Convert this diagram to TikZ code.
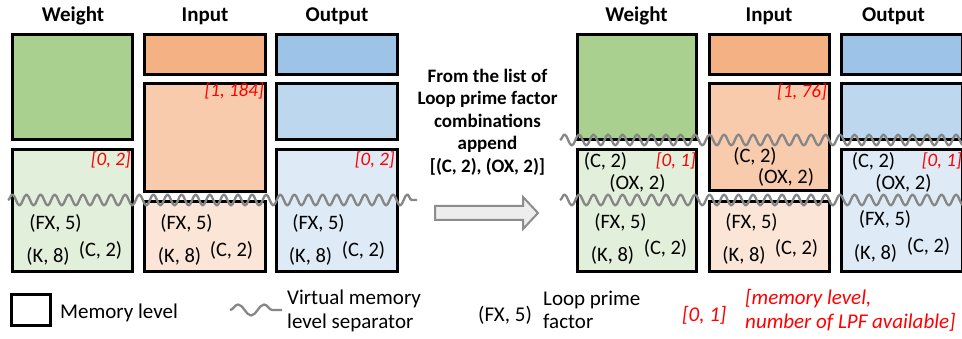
\documentclass[tikz,border=0pt]{standalone}
\usepackage{fontspec}
\setmainfont{Carlito}
\usetikzlibrary{decorations.pathmorphing,fit}
\definecolor{wTop}{HTML}{A9D08E}
\definecolor{wLow}{HTML}{E2EFDA}
\definecolor{iTop}{HTML}{F4B183}
\definecolor{iMid}{HTML}{F8CBAD}
\definecolor{iLow}{HTML}{FBE5D6}
\definecolor{oTop}{HTML}{9DC3E6}
\definecolor{oMid}{HTML}{BDD7EE}
\definecolor{oLow}{HTML}{DEEBF7}
\definecolor{lred}{HTML}{FF0000}
\definecolor{sepgray}{HTML}{868686}
\definecolor{arrfill}{HTML}{EDEDED}
\definecolor{arrgray}{HTML}{8C8C8C}
\newcommand\memlevel[6]{\node[mem,fill=#2,fit={(#3,#4) (#5,#6)}] (#1) {};}
\begin{document}
\begin{tikzpicture}[x=1pt,y=-1pt,
  mem/.style={draw=black,line width=3pt,inner sep=0pt,outer sep=0pt},
  hdr/.style={font=\fontsize{21}{24}\selectfont\bfseries,anchor=base,inner sep=0pt},
  lpf/.style={font=\fontsize{20.5}{24}\selectfont,anchor=base,inner sep=0pt},
  cnt/.style={font=\fontsize{19}{22}\selectfont\itshape,text=lred,anchor=base east,inner sep=0pt},
  leg/.style={font=\fontsize{21}{23}\selectfont,anchor=base west,inner sep=0pt},
  sep/.style={draw=sepgray,line width=2.3pt,line join=round,decorate,decoration={snake,amplitude=5.5pt,segment length=14.1pt}},
]
\clip (0,0) rectangle (962,339);
\fill[white] (0,0) rectangle (962,339);

% ---------------- left panel ----------------
\node[hdr] (hW1) at (73,22) {Weight};
\node[hdr] (hI1) at (205,22) {Input};
\node[hdr] (hO1) at (337,22) {Output};

\memlevel{w1a}{wTop}{12.5}{34.5}{132.5}{139.5}
\memlevel{w1b}{wLow}{12.5}{149.5}{132.5}{271.5}
\memlevel{i1a}{iTop}{144.5}{34.5}{265.5}{74.5}
\memlevel{i1b}{iMid}{144.5}{83.5}{265.5}{191.5}
\memlevel{i1c}{iLow}{144.5}{201.5}{265.5}{271.5}
\memlevel{o1a}{oTop}{276.5}{34.5}{397.5}{74.5}
\memlevel{o1b}{oMid}{276.5}{83.5}{397.5}{139.5}
\memlevel{o1c}{oLow}{276.5}{149.5}{397.5}{271.5}

\node[cnt] (c1i) at (264,97) {[1, 184]};
\node[cnt] (c1w) at (131,166) {[0, 2]};
\node[cnt] (c1o) at (395,166) {[0, 2]};

\coordinate (s1a) at (8,200);
\coordinate (s1b) at (417,200);
\draw[sep] (s1a) -- (s1b);

\node[lpf] (w1fx) at (55.5,230) {(FX, 5)};
\node[lpf] (w1k)  at (48,263) {(K, 8)};
\node[lpf] (w1c)  at (100.5,257) {(C, 2)};
\node[lpf] (i1fx) at (186.5,230) {(FX, 5)};
\node[lpf] (i1k)  at (179.5,263) {(K, 8)};
\node[lpf] (i1c)  at (231.5,257) {(C, 2)};
\node[lpf] (o1fx) at (318.5,230) {(FX, 5)};
\node[lpf] (o1k)  at (310.5,263) {(K, 8)};
\node[lpf] (o1c)  at (363.5,257) {(C, 2)};

% ---------------- middle ----------------
\node[font=\fontsize{19}{22.5}\selectfont\bfseries,align=center,inner sep=0pt] (txt) at (487.5,122)
  {From the list of\\Loop prime factor\\combinations\\append\\{[(C, 2), (OX, 2)]}};
\draw[fill=arrfill,draw=arrgray,line width=2pt]
  (435,206) -- (523,206) -- (523,197) -- (538,213) -- (523,229) -- (523,220) -- (435,220) -- cycle;

% ---------------- right panel ----------------
\node[hdr] (hW2) at (636.5,22) {Weight};
\node[hdr] (hI2) at (769,22) {Input};
\node[hdr] (hO2) at (893.5,22) {Output};

\memlevel{w2a}{wTop}{577.5}{34.5}{696.5}{139.5}
\memlevel{w2b}{wLow}{577.5}{149.5}{696.5}{271.5}
\memlevel{i2a}{iTop}{709.5}{34.5}{829.5}{74.5}
\memlevel{i2b}{iMid}{709.5}{83.5}{829.5}{190.5}
\memlevel{i2c}{iLow}{709.5}{201.5}{829.5}{271.5}
\memlevel{o2a}{oTop}{841.5}{34.5}{962.5}{74.5}
\memlevel{o2b}{oMid}{841.5}{83.5}{962.5}{139.5}
\memlevel{o2c}{oLow}{841.5}{149.5}{962.5}{271.5}

\node[cnt] (c2i) at (827,98) {[1, 76]};
\node[cnt] (c2w) at (696,167) {[0, 1]};
\node[cnt] (c2o) at (962,167) {[0, 1]};

\coordinate (s2a) at (560,140);
\coordinate (s2b) at (970,140);
\draw[sep,decoration={segment length=14.5pt}] (s2a) -- (s2b);
\coordinate (s3a) at (560,200);
\coordinate (s3b) at (970,200);
\draw[sep,decoration={segment length=14.5pt}] (s3a) -- (s3b);

\node[lpf] (w2c1) at (605.5,168) {(C, 2)};
\node[lpf] (w2ox) at (637.5,190) {(OX, 2)};
\node[lpf] (w2fx) at (620.5,229) {(FX, 5)};
\node[lpf] (w2k)  at (612.5,262) {(K, 8)};
\node[lpf] (w2c)  at (665.5,255) {(C, 2)};
\node[lpf] (i2c1) at (755,163) {(C, 2)};
\node[lpf] (i2ox) at (786,184) {(OX, 2)};
\node[lpf] (i2fx) at (751.5,229) {(FX, 5)};
\node[lpf] (i2k)  at (744,262) {(K, 8)};
\node[lpf] (i2c)  at (796.5,255) {(C, 2)};
\node[lpf] (o2c1) at (873.5,168) {(C, 2)};
\node[lpf] (o2ox) at (903.5,190) {(OX, 2)};
\node[lpf] (o2fx) at (885,226) {(FX, 5)};
\node[lpf] (o2k)  at (875.5,260) {(K, 8)};
\node[lpf] (o2c)  at (928.5,253) {(C, 2)};

% ---------------- legend ----------------
\node[mem,fill=white,minimum width=39pt,minimum height=31pt,anchor=center] (lbox) at (31,310) {};
\node[leg] (lmem) at (60,319) {Memory level};
\coordinate (lsa) at (230,310);
\coordinate (lsb) at (282,310);
\draw[sep,decoration={segment length=26pt,amplitude=5.5pt}] (lsa) -- (lsb);
\node[leg] (lvm1) at (287,305) {Virtual memory};
\node[leg] (lvm2) at (287,328) {level separator};
\node[leg] (llpf) at (478,322) {(FX, 5)};
\node[leg] (llp1) at (543,306) {Loop prime};
\node[leg] (llp2) at (543,329) {factor};
\node[leg,font=\fontsize{21}{23}\selectfont\itshape,text=lred] (lcnt) at (682,322) {[0, 1]};
\node[leg,font=\fontsize{21}{23}\selectfont\itshape,text=lred] (lc1) at (745,305) {[memory level,};
\node[leg,font=\fontsize{21}{23}\selectfont\itshape,text=lred] (lc2) at (745,328) {number of LPF available]};
\end{tikzpicture}
\end{document}
